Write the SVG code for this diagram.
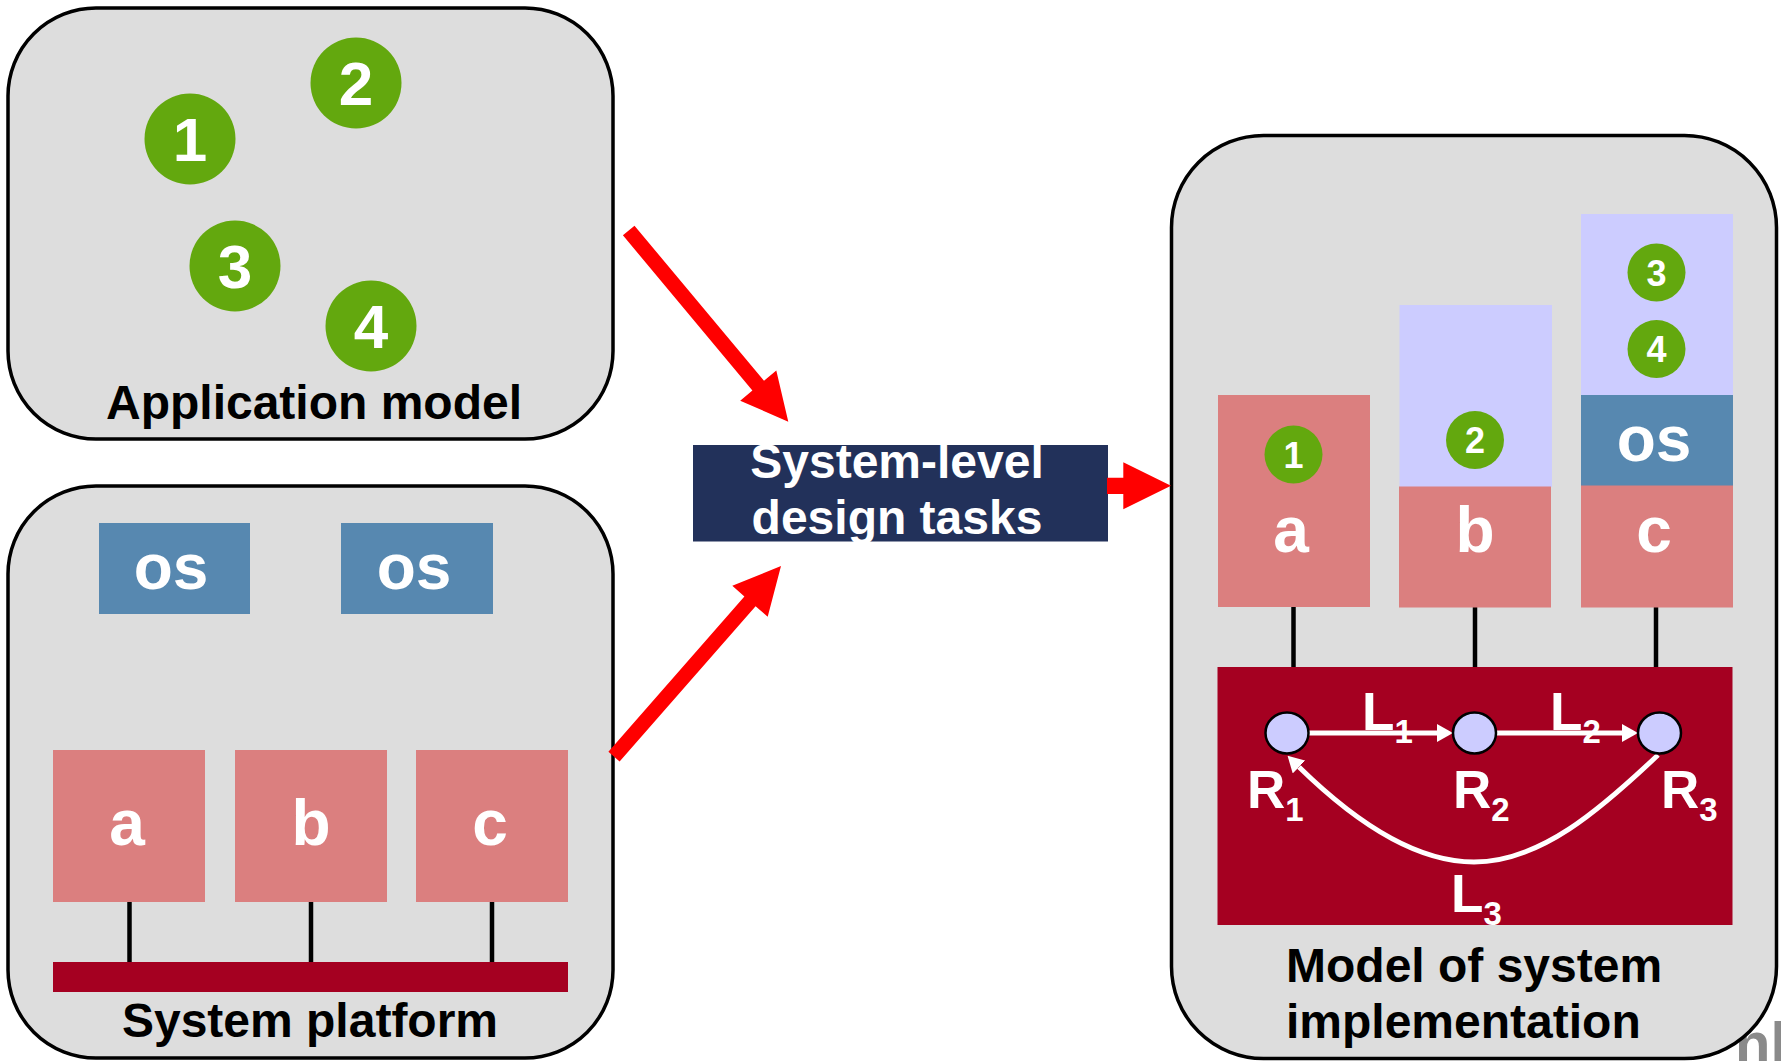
<svg xmlns="http://www.w3.org/2000/svg" width="1781" height="1061" viewBox="0 0 1781 1061">
<style>
text{font-family:"Liberation Sans",Arial,sans-serif;font-weight:bold}
.panel{fill:#DDDDDD;stroke:#000;stroke-width:3.5}
.task{fill:#63A80E}
.tnum{fill:#fff;font-size:62px;text-anchor:middle}
.snum{fill:#fff;font-size:36px;text-anchor:middle}
.os{fill:#5788B0}
.pe{fill:#DB7F7F}
.lav{fill:#CCCCFF}
.bus{fill:#A50021}
.w{fill:#fff;text-anchor:middle}
.big{font-size:64px}
.lbl{fill:#000;font-size:48px}
.tie{stroke:#000;stroke-width:4.5}
.rt{fill:#CCCCFF;stroke:#000;stroke-width:2.5}
.lnk{stroke:#fff;stroke-width:5;fill:none}
.rl{fill:#fff;font-size:53px}
.sub{font-size:33px}
.red{fill:#FF0000}
</style>
<defs>
<marker id="ah" viewBox="0 0 16 18" refX="0" refY="9" markerWidth="16" markerHeight="18" markerUnits="userSpaceOnUse" orient="auto">
<path d="M0,0 L16,9 L0,18 z" fill="#fff"/>
</marker>
</defs>
<rect width="1781" height="1061" fill="#fff"/>
<text x="1735" y="1063" style="font-size:58px;fill:#8a8a8a">nl</text>

<g id="application-model">
<rect class="panel" x="8" y="8" width="605" height="431" rx="88" ry="88"/>
<circle class="task" cx="190" cy="139" r="45.5"/>
<text class="tnum" x="190" y="161">1</text>
<circle class="task" cx="356" cy="83" r="45.5"/>
<text class="tnum" x="356" y="105">2</text>
<circle class="task" cx="235" cy="266" r="45.5"/>
<text class="tnum" x="235" y="288">3</text>
<circle class="task" cx="371" cy="326" r="45.5"/>
<text class="tnum" x="371" y="348">4</text>
<text class="lbl" x="314" y="419" text-anchor="middle">Application model</text>
</g>

<g id="system-platform">
<rect class="panel" x="8" y="486" width="605" height="572" rx="88" ry="88"/>
<rect class="os" x="99" y="523" width="151" height="91"/>
<text class="w big" x="171" y="589">os</text>
<rect class="os" x="341" y="523" width="152" height="91"/>
<text class="w big" x="414" y="589">os</text>
<line class="tie" x1="129.5" y1="900" x2="129.5" y2="963"/>
<line class="tie" x1="311" y1="900" x2="311" y2="963"/>
<line class="tie" x1="492" y1="900" x2="492" y2="963"/>
<rect class="pe" x="53" y="750" width="152" height="152"/>
<text class="w big" x="127" y="845">a</text>
<rect class="pe" x="235" y="750" width="152" height="152"/>
<text class="w big" x="311" y="845">b</text>
<rect class="pe" x="416" y="750" width="152" height="152"/>
<text class="w big" x="490" y="845">c</text>
<rect class="bus" x="53" y="962" width="515" height="30"/>
<text class="lbl" x="310" y="1037" text-anchor="middle">System platform</text>
</g>

<g id="design-tasks">
<rect x="693" y="445" width="415" height="96.5" fill="#22315A"/>
<text class="w" x="897" y="478" style="font-size:48px">System-level</text>
<text class="w" x="897" y="534" style="font-size:48px">design tasks</text>
</g>

<g id="system-implementation">
<rect class="panel" x="1171.5" y="135.5" width="605" height="923" rx="92" ry="92"/>
<line class="tie" x1="1293.5" y1="605" x2="1293.5" y2="668"/>
<line class="tie" x1="1475" y1="605" x2="1475" y2="668"/>
<line class="tie" x1="1656" y1="605" x2="1656" y2="668"/>
<rect class="pe" x="1218" y="395" width="152" height="212"/>
<circle class="task" cx="1293.5" cy="454.5" r="29"/>
<text class="snum" x="1293.5" y="467.5">1</text>
<text class="w big" x="1291" y="552">a</text>
<rect class="lav" x="1399.5" y="305" width="152.5" height="182"/>
<circle class="task" cx="1475" cy="440" r="29"/>
<text class="snum" x="1475" y="453">2</text>
<rect class="pe" x="1399" y="486.5" width="152" height="121"/>
<text class="w big" x="1475" y="552">b</text>
<rect class="lav" x="1581" y="214" width="152" height="181.5"/>
<circle class="task" cx="1656.5" cy="272.5" r="29"/>
<text class="snum" x="1656.5" y="285.5">3</text>
<circle class="task" cx="1656.5" cy="349" r="29"/>
<text class="snum" x="1656.5" y="362">4</text>
<rect class="os" x="1581" y="395" width="152" height="91"/>
<text class="w big" x="1654" y="461">os</text>
<rect class="pe" x="1581" y="485.5" width="152" height="122"/>
<text class="w big" x="1654" y="552">c</text>
<rect class="bus" x="1217.5" y="667" width="515" height="258"/>
<g id="router-links">
<line class="lnk" x1="1307" y1="733" x2="1437" y2="733" marker-end="url(#ah)"/>
<line class="lnk" x1="1495" y1="733" x2="1622" y2="733" marker-end="url(#ah)"/>
<path class="lnk" d="M1658,755 C1600,810 1540,862 1474,862 C1410,862 1348,815 1299,767" marker-end="url(#ah)"/>
</g>
<ellipse class="rt" cx="1287" cy="733" rx="21.5" ry="20.5"/>
<ellipse class="rt" cx="1474.5" cy="733" rx="21.5" ry="20.5"/>
<ellipse class="rt" cx="1659.5" cy="733" rx="21.5" ry="20.5"/>
<text class="rl" x="1362" y="730">L<tspan class="sub" dy="13">1</tspan></text>
<text class="rl" x="1550" y="730">L<tspan class="sub" dy="13">2</tspan></text>
<text class="rl" x="1247" y="808">R<tspan class="sub" dy="13">1</tspan></text>
<text class="rl" x="1453" y="808">R<tspan class="sub" dy="13">2</tspan></text>
<text class="rl" x="1661" y="808">R<tspan class="sub" dy="13">3</tspan></text>
<text class="rl" x="1451" y="912">L<tspan class="sub" dy="13">3</tspan></text>
<text class="lbl" x="1286" y="982">Model of system</text>
<text class="lbl" x="1286" y="1038">implementation</text>
</g>

<g id="connectors">
<polygon class="red" points="622.9,235.3 752.4,390.4 740.2,400.7 788.3,421.7 776.3,370.5 764,380.8 634.5,225.7"/>
<polygon class="red" points="608.4,751.8 744.4,596.4 732.3,585.8 781,566 767.7,616.8 755.6,606.2 619.6,761.6"/>
<polygon class="red" points="1107,477.7 1123.3,477.7 1123.3,462.3 1171,485.8 1123.3,509.3 1123.3,494 1107,494"/>
</g>
</svg>
